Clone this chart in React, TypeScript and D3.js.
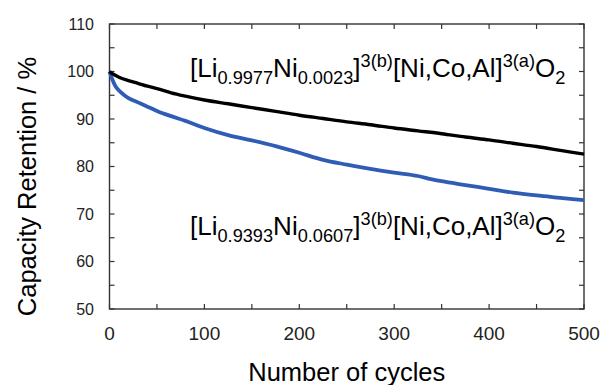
import React from "react";
import * as d3 from "d3";

const blackCycles = [0, 5, 10, 20, 30, 40, 50, 65, 80, 100, 125, 150, 175, 200, 225, 250, 275, 300, 325, 350, 375, 400, 425, 450, 475, 500];
const blackValues = [100, 99.3, 98.8, 98.1, 97.5, 96.9, 96.4, 95.5, 94.8, 94.0, 93.2, 92.4, 91.6, 90.8, 90.1, 89.4, 88.8, 88.1, 87.5, 86.9, 86.2, 85.6, 84.9, 84.2, 83.4, 82.6];

const blueCycles = [0, 3, 6, 10, 15, 20, 30, 40, 50, 65, 80, 100, 125, 150, 175, 200, 225, 250, 275, 300, 325, 340, 350, 375, 400, 425, 450, 475, 500];
const blueValues = [100, 98.3, 97.0, 96.0, 95.1, 94.4, 93.5, 92.6, 91.7, 90.6, 89.6, 88.1, 86.6, 85.5, 84.3, 82.9, 81.4, 80.4, 79.5, 78.7, 78.0, 77.3, 76.9, 76.1, 75.3, 74.5, 73.9, 73.4, 72.9];

const xTickLabels = [0, 100, 200, 300, 400, 500];
const yTickLabels = [50, 60, 70, 80, 90, 100, 110];
const xMinorTicks = [0, 50, 100, 150, 200, 250, 300, 350, 400, 450, 500];
const yMinorTicks = [50, 55, 60, 65, 70, 75, 80, 85, 90, 95, 100, 105, 110];

type Part = { t: string; m: "n" | "sub" | "sup" };
const upperLabel: Part[] = [
  { t: "[Li", m: "n" }, { t: "0.9977", m: "sub" }, { t: "Ni", m: "n" }, { t: "0.0023", m: "sub" },
  { t: "]", m: "n" }, { t: "3(b)", m: "sup" }, { t: "[Ni,Co,Al]", m: "n" }, { t: "3(a)", m: "sup" },
  { t: "O", m: "n" }, { t: "2", m: "sub" },
];
const lowerLabel: Part[] = [
  { t: "[Li", m: "n" }, { t: "0.9393", m: "sub" }, { t: "Ni", m: "n" }, { t: "0.0607", m: "sub" },
  { t: "]", m: "n" }, { t: "3(b)", m: "sup" }, { t: "[Ni,Co,Al]", m: "n" }, { t: "3(a)", m: "sup" },
  { t: "O", m: "n" }, { t: "2", m: "sub" },
];

const FONT = "Arial, 'Liberation Sans', sans-serif";

function Formula({ parts, x, y, size, small }: { parts: Part[]; x: number; y: number; size: number; small: number }) {
  let cur = 0;
  const subOff = 0.3 * size;
  const supOff = -0.38 * size;
  return (
    <text x={x} y={y} fontFamily={FONT} fontSize={size} fill="#000">
      {parts.map((p, i) => {
        const target = p.m === "sub" ? subOff : p.m === "sup" ? supOff : 0;
        const dy = target - cur;
        cur = target;
        return (
          <tspan key={i} dy={dy} fontSize={p.m === "n" ? size : small}>
            {p.t}
          </tspan>
        );
      })}
    </text>
  );
}

export default function App() {
  const W = 601, H = 385;
  const left = 109.5, right = 584, top = 24, bottom = 309;
  const x = d3.scaleLinear().domain([0, 500]).range([left, right]);
  const y = d3.scaleLinear().domain([50, 110]).range([bottom, top]);
  const line = d3.line<[number, number]>().x(d => x(d[0])).y(d => y(d[1])).curve(d3.curveMonotoneX);
  const blackData = blackCycles.map((c, i) => [c, blackValues[i]] as [number, number]);
  const blueData = blueCycles.map((c, i) => [c, blueValues[i]] as [number, number]);
  const axisColor = "#333";
  const tl = 5;
  return (
    <svg width={W} height={H} style={{ position: "absolute", left: 0, top: 0, background: "#fff" }}>
      <rect x={0} y={0} width={W} height={H} fill="#fff" />
      {xMinorTicks.map(t => (
        <g key={"xt" + t}>
          <line x1={x(t)} x2={x(t)} y1={bottom} y2={bottom - tl} stroke={axisColor} strokeWidth={1.2} />
          <line x1={x(t)} x2={x(t)} y1={top} y2={top + tl} stroke={axisColor} strokeWidth={1.2} />
        </g>
      ))}
      {yMinorTicks.map(t => (
        <g key={"yt" + t}>
          <line x1={left} x2={left + tl} y1={y(t)} y2={y(t)} stroke={axisColor} strokeWidth={1.2} />
          <line x1={right} x2={right - tl} y1={y(t)} y2={y(t)} stroke={axisColor} strokeWidth={1.2} />
        </g>
      ))}
      <rect x={left} y={top} width={right - left} height={bottom - top} fill="none" stroke={axisColor} strokeWidth={1.4} />
      {xTickLabels.map(t => (
        <text key={"xl" + t} x={x(t)} y={340} textAnchor="middle" fontFamily={FONT} fontSize={19} fill="#222">{t}</text>
      ))}
      {yTickLabels.map(t => (
        <text key={"yl" + t} x={94} y={y(t)} dy="0.35em" textAnchor="end" fontFamily={FONT} fontSize={16} fill="#222">{t}</text>
      ))}
      <path d={line(blueData) ?? ""} fill="none" stroke="#2f5db5" strokeWidth={3.8} strokeLinejoin="round" />
      <path d={line(blackData) ?? ""} fill="none" stroke="#000" strokeWidth={3.4} strokeLinejoin="round" />
      <Formula parts={upperLabel} x={190} y={76.5} size={26} small={18.2} />
      <Formula parts={lowerLabel} x={190} y={234.5} size={26} small={18.2} />
      <text x={(left + right) / 2} y={381} textAnchor="middle" fontFamily={FONT} fontSize={25.5} fill="#000">Number of cycles</text>
      <text transform={`translate(36,${(top + bottom) / 2 + 20}) rotate(-90)`} textAnchor="middle" fontFamily={FONT} fontSize={25.5} fill="#000">Capacity Retention / %</text>
    </svg>
  );
}
